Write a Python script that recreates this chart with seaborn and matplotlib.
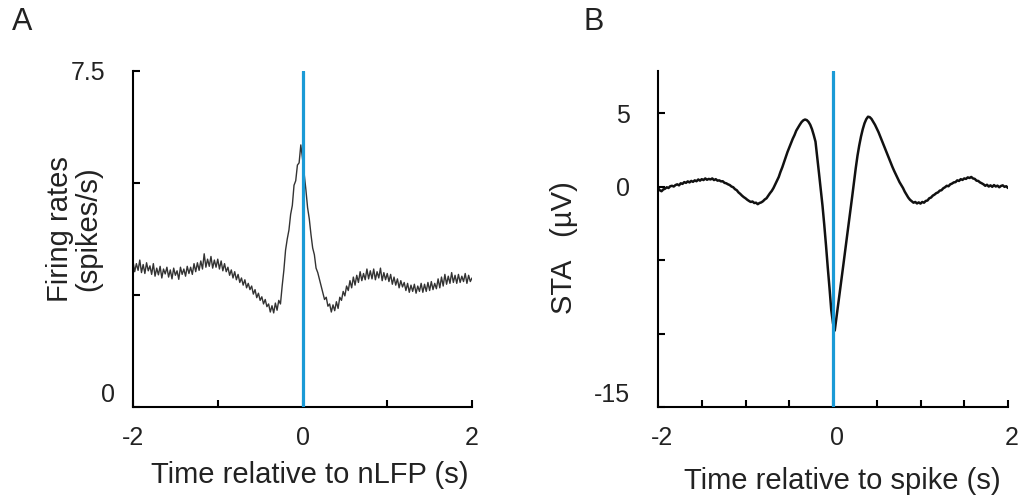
import numpy as np
import pandas as pd
import matplotlib
matplotlib.use("Agg")
import matplotlib.pyplot as plt
import matplotlib.transforms as mtransforms
import seaborn as sns

# ---------------- data ----------------
# Panel A: firing rate (spikes/s), sampled every 0.02 s from -2 to 2 s
rate_a = [
    3.25, 3.02, 3.20, 3.05, 3.28, 3.00, 3.18, 2.98, 3.22, 3.04,
    3.15, 2.96, 3.20, 2.92, 3.10, 2.95, 3.14, 2.88, 3.08, 2.97,
    3.12, 2.90, 3.06, 2.86, 3.10, 2.94, 3.04, 2.85, 3.12, 2.96,
    3.08, 2.92, 3.14, 2.98, 3.12, 2.96, 3.20, 3.02, 3.22, 3.05,
    3.26, 3.08, 3.42, 3.12, 3.30, 3.14, 3.36, 3.10, 3.28, 3.12,
    3.30, 3.08, 3.26, 3.04, 3.20, 3.02, 3.12, 2.94, 3.06, 2.88,
    3.02, 2.84, 2.96, 2.78, 2.88, 2.72, 2.84, 2.66, 2.76, 2.62,
    2.70, 2.52, 2.62, 2.44, 2.54, 2.38, 2.46, 2.30, 2.40, 2.24,
    2.30, 2.12, 2.26, 2.10, 2.32, 2.16, 2.38, 2.30, 2.70, 3.05,
    3.50, 3.75, 3.95, 4.30, 4.50, 4.95, 5.05, 5.40, 5.45, 5.85,
    5.55, 5.20, 4.85, 4.45, 4.20, 3.85, 3.55, 3.40, 3.10, 3.00,
    2.85, 2.70, 2.55, 2.40, 2.45, 2.25, 2.30, 2.12, 2.28, 2.15,
    2.35, 2.20, 2.45, 2.38, 2.58, 2.48, 2.70, 2.60, 2.82, 2.66,
    2.90, 2.72, 2.94, 2.78, 3.02, 2.82, 2.98, 2.84, 3.08, 2.86,
    3.04, 2.86, 3.08, 2.84, 3.02, 2.88, 3.10, 2.82, 3.00, 2.84,
    2.98, 2.80, 2.96, 2.74, 2.90, 2.72, 2.86, 2.66, 2.82, 2.68,
    2.78, 2.60, 2.76, 2.56, 2.72, 2.58, 2.74, 2.54, 2.70, 2.58,
    2.76, 2.56, 2.74, 2.58, 2.78, 2.60, 2.80, 2.62, 2.76, 2.64,
    2.86, 2.66, 2.90, 2.70, 2.96, 2.74, 2.92, 2.76, 3.00, 2.78,
    2.94, 2.76, 2.96, 2.78, 2.92, 2.80, 2.98, 2.76, 2.94, 2.80,
    2.88,
]

# Panel B: spike-triggered average (µV), sampled every 0.02 s from -2 to 2 s
sta_b = [
    -0.10, -0.25, -0.32, -0.20, -0.15, -0.05, -0.10, 0.02, 0.05, 0.00,
    0.10, 0.15, 0.08, 0.22, 0.18, 0.30, 0.25, 0.35, 0.28, 0.38,
    0.32, 0.42, 0.36, 0.48, 0.40, 0.50, 0.44, 0.55, 0.46, 0.52,
    0.48, 0.55, 0.44, 0.50, 0.40, 0.42, 0.35, 0.36, 0.25, 0.22,
    0.15, 0.10, 0.00, -0.05, -0.18, -0.25, -0.40, -0.50, -0.62, -0.72,
    -0.80, -0.90, -0.98, -1.05, -1.02, -1.12, -1.10, -1.20, -1.12, -1.08,
    -1.00, -0.88, -0.80, -0.62, -0.45, -0.30, -0.10, 0.15, 0.40, 0.65,
    1.00, 1.30, 1.65, 2.00, 2.35, 2.65, 2.95, 3.25, 3.50, 3.80,
    4.00, 4.20, 4.38, 4.50, 4.56, 4.52, 4.40, 4.20, 3.90, 3.50,
    3.05, 2.00, 0.90, -0.20, -1.30, -2.60, -4.00, -5.50, -6.90, -8.40,
    -9.30, -9.80, -8.90, -8.00, -7.10, -6.20, -5.25, -4.30, -3.40, -2.50,
    -1.60, -0.65, 0.30, 1.25, 2.10, 2.80, 3.40, 3.90, 4.30, 4.58,
    4.75, 4.72, 4.60, 4.40, 4.20, 3.95, 3.70, 3.40, 3.10, 2.80,
    2.50, 2.20, 1.90, 1.60, 1.32, 1.05, 0.80, 0.55, 0.30, 0.10,
    -0.10, -0.35, -0.55, -0.75, -0.90, -1.00, -1.10, -1.05, -1.15, -1.08,
    -1.16, -1.05, -1.10, -0.98, -0.95, -0.80, -0.75, -0.62, -0.55, -0.45,
    -0.40, -0.28, -0.25, -0.12, -0.05, 0.05, 0.02, 0.15, 0.20, 0.28,
    0.30, 0.42, 0.38, 0.50, 0.45, 0.55, 0.52, 0.62, 0.58, 0.65,
    0.55, 0.52, 0.40, 0.38, 0.28, 0.22, 0.15, 0.05, 0.12, 0.00,
    0.08, -0.02, 0.10, 0.00, 0.06, -0.05, 0.04, 0.08, -0.02, 0.02,
    -0.10,
]

time_step = 0.02
time_start = -2.0
event_time = 0.0  # blue marker (nLFP / spike onset)

xticks_a = [-2, -1, 0, 1, 2]
xticklabels_a = ["-2", "", "0", "", "2"]
yticks_a = [0, 2.5, 5, 7.5]
yticklabels_a = ["0", "", "", "7.5"]

xticks_b = [-2, -1.5, -1, -0.5, 0, 0.5, 1, 1.5, 2]
xticklabels_b = ["-2", "", "", "", "0", "", "", "", "2"]
yticks_b = [-15, -10, -5, 0, 5]
yticklabels_b = ["-15", "", "", "0", "5"]

# ---------------- style ----------------
sns.set_theme(style="white")
plt.rcParams["font.family"] = ["Liberation Sans", "DejaVu Sans"]

BLUE = "#1a9ad6"

t_a = np.round(time_start + time_step * np.arange(len(rate_a)), 2)
t_b = np.round(time_start + time_step * np.arange(len(sta_b)), 2)
df_a = pd.DataFrame({"t": t_a, "v": rate_a})
df_b = pd.DataFrame({"t": t_b, "v": sta_b})

fig = plt.figure(figsize=(10.21, 4.97), dpi=100)
axA = fig.add_axes([133 / 1021, 90 / 497, 339 / 1021, 336 / 497])
axB = fig.add_axes([658 / 1021, 90 / 497, 350 / 1021, 336 / 497])

sns.lineplot(data=df_a, x="t", y="v", ax=axA, color="#333333", linewidth=1.0,
             estimator=None)
sns.lineplot(data=df_b, x="t", y="v", ax=axB, color="#111111", linewidth=1.8,
             estimator=None)

for ax in (axA, axB):
    ax.axvline(event_time, color=BLUE, linewidth=2.3, zorder=3)

axA.set_xlim(-2, 2)
axA.set_ylim(0, 7.5)
axB.set_xlim(-2, 2)
axB.set_ylim(-15, 7.86)

axA.set_xticks(xticks_a)
axA.set_xticklabels(xticklabels_a)
axA.set_yticks(yticks_a)
axA.set_yticklabels(yticklabels_a)
axB.set_xticks(xticks_b)
axB.set_xticklabels(xticklabels_b)
axB.set_yticks(yticks_b)
axB.set_yticklabels(yticklabels_b)

for ax in (axA, axB):
    for side in ("top", "right"):
        ax.spines[side].set_visible(False)
    for side in ("left", "bottom"):
        ax.spines[side].set_linewidth(1.5)
        ax.spines[side].set_color("black")
    ax.tick_params(axis="both", which="major", direction="in", length=5,
                   width=1.5, color="black", labelsize=18, labelcolor="#222222",
                   bottom=True, left=True, top=False, right=False)
    ax.tick_params(axis="x", pad=14)
    ax.tick_params(axis="y", pad=20)
    ax.grid(False)

# small per-label offsets as in the reference
def shift(label, dx_px, dy_px):
    label.set_transform(label.get_transform() +
                        mtransforms.ScaledTranslation(dx_px / 100, dy_px / 100,
                                                      fig.dpi_scale_trans))

ylabsA = axA.yaxis.get_majorticklabels()
ylabsA[0].set_verticalalignment("bottom")
shift(ylabsA[0], 10, 0)
ylabsB = axB.yaxis.get_majorticklabels()
ylabsB[0].set_verticalalignment("bottom")
for lab in axB.xaxis.get_majorticklabels():
    shift(lab, 4, 0)

axA.set_xlabel("Time relative to nLFP (s)", fontsize=21, color="#222222")
axA.set_ylabel("Firing rates\n(spikes/s)", fontsize=21, color="#222222",
               linespacing=1.0)
axB.set_xlabel("Time relative to spike (s)", fontsize=21, color="#222222")
axB.set_ylabel("STA   (µV)", fontsize=21, color="#222222")

axA.xaxis.set_label_coords(0.522, -0.16)
axA.yaxis.set_label_coords(-0.09, 0.53)
axB.xaxis.set_label_coords(0.527, -0.18)
axB.yaxis.set_label_coords(-0.23, 0.473)

fig.text(22 / 1021, 1 - 22 / 497, "A", fontsize=22, ha="center", va="center",
         color="#222222")
fig.text(594 / 1021, 1 - 22 / 497, "B", fontsize=22, ha="center", va="center",
         color="#222222")

fig.savefig("out.png", dpi=100, facecolor="white")
